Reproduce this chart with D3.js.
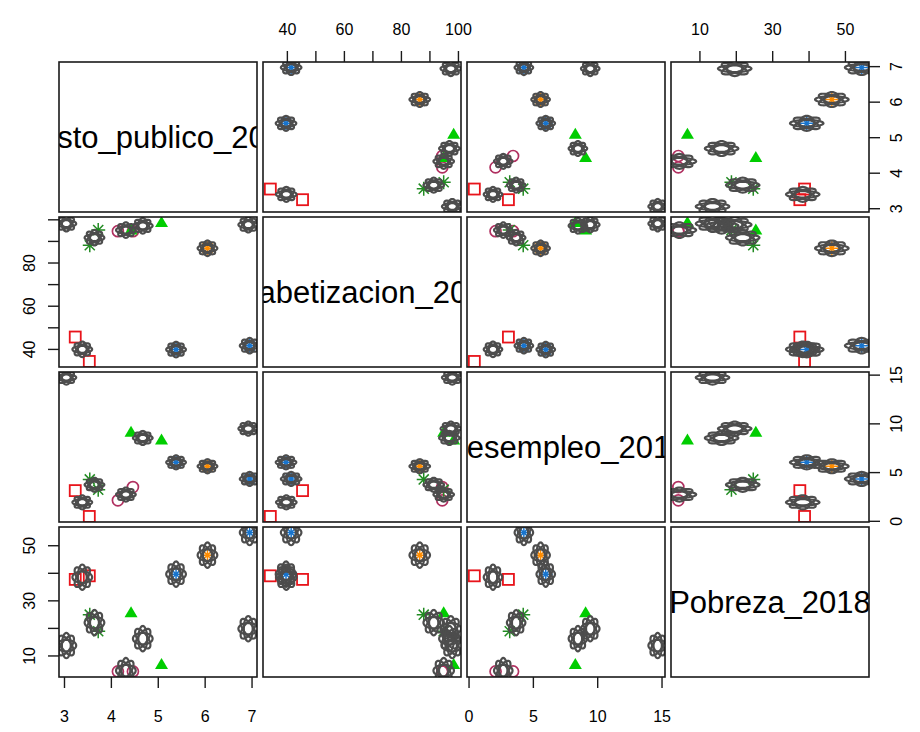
<!DOCTYPE html>
<html>
<head>
<meta charset="utf-8">
<script src="https://cdn.jsdelivr.net/npm/d3@7"></script>
<style>
body { margin: 0; background: #fff; }
text { font-family: "Liberation Sans", Arial, sans-serif; fill: #000; }
</style>
</head>
<body>
<div id="chart"></div>
<script>
// variable names, shown on the diagonal
var varNames = ["Gasto_publico_2018", "Alfabetizacion_2018", "Desempleo_2018", "Pobreza_2018"];

// grey cluster glyphs (one per cluster centre)
var blobGasto     = [6.96, 6.93, 6.06, 5.39, 4.68, 4.32, 3.65, 3.39, 3.05];
var blobAlfa      = [41.5, 97.5, 86.6, 39.7, 97.0, 95.0, 91.5, 39.8, 98.0];
var blobDesempleo = [4.3, 9.46, 5.6, 6.0, 8.5, 2.7, 3.7, 1.9, 14.7];
var blobPobreza   = [54.6, 19.7, 46.4, 39.5, 16.1, 4.5, 21.9, 38.4, 13.6];

// coloured observations
var obsGasto     = [3.54, 3.24, 4.15, 4.47, 5.08, 4.43, 3.73, 3.55, 6.06, 6.96, 5.39];
var obsAlfa      = [34.2, 45.5, 94.5, 94.5, 98.5, 95.0, 95.0, 88.0, 86.6, 41.5, 39.7];
var obsDesempleo = [0.45, 3.1, 2.1, 3.46, 8.3, 9.1, 3.2, 4.25, 5.6, 4.3, 6.0];
var obsPobreza   = [38.9, 37.6, 4.2, 4.2, 6.7, 25.5, 18.8, 24.8, 46.4, 54.6, 39.5];
var obsGroup     = ["cuadrado", "cuadrado", "circulo", "circulo", "triangulo", "triangulo",
                    "asterisco", "asterisco", "naranja", "azul", "azul"];

// axis ticks and the labels actually printed (column axis / row axis)
var ticksGasto = [3, 4, 5, 6, 7];
var labelsGastoCol = [3, 4, 5, 6, 7],  labelsGastoRow = [3, 4, 5, 6, 7];
var ticksAlfa = [40, 50, 60, 70, 80, 90, 100];
var labelsAlfaCol = [40, 60, 80, 100], labelsAlfaRow = [40, 60, 80];
var ticksDesempleo = [0, 5, 10, 15];
var labelsDesempleoCol = [0, 5, 10, 15], labelsDesempleoRow = [0, 5, 10, 15];
var ticksPobreza = [10, 20, 30, 40, 50];
var labelsPobrezaCol = [10, 30, 50], labelsPobrezaRow = [10, 30, 50];

var blobs = [blobGasto, blobAlfa, blobDesempleo, blobPobreza];
var obs = [obsGasto, obsAlfa, obsDesempleo, obsPobreza];
var ticks = [ticksGasto, ticksAlfa, ticksDesempleo, ticksPobreza];
var colLabels = [labelsGastoCol, labelsAlfaCol, labelsDesempleoCol, labelsPobrezaCol];
var rowLabels = [labelsGastoRow, labelsAlfaRow, labelsDesempleoRow, labelsPobrezaRow];

// glyph half sizes in data units for each variable
var glyphRad = [0.21, 3.6, 0.72, 4.6];

var symStyle = {
  cuadrado:  {shape: "square",   color: "#e8141b"},
  circulo:   {shape: "circle",   color: "#b03060"},
  triangulo: {shape: "triangle", color: "#00cd00"},
  asterisco: {shape: "asterisk", color: "#228b22"},
  naranja:   {shape: "asterisk", color: "#ff8c00"},
  azul:      {shape: "asterisk", color: "#1874cd"}
};

var W = 920, H = 732;
var colX = [59, 263, 467, 671], rowY = [62, 217, 372, 527];
var pw = 198, ph = 150;

var svg = d3.select("#chart").append("svg")
  .attr("width", W).attr("height", H);

// domains like R: data range + 4% each side
var domains = [0, 1, 2, 3].map(function(v) {
  var all = blobs[v].concat(obs[v]);
  var ext = d3.extent(all), r = ext[1] - ext[0];
  return [ext[0] - 0.04 * r, ext[1] + 0.04 * r];
});

function xScale(v) { return d3.scaleLinear().domain(domains[v]).range([colX[v], colX[v] + pw]); }
function yScale(v) { return d3.scaleLinear().domain(domains[v]).range([rowY[v] + ph, rowY[v]]); }

var defs = svg.append("defs");

for (var i = 0; i < 4; i++) {
  for (var j = 0; j < 4; j++) {
    var g = svg.append("g");
    var clipId = "clip" + i + j;
    defs.append("clipPath").attr("id", clipId).append("rect")
      .attr("x", colX[j]).attr("y", rowY[i]).attr("width", pw).attr("height", ph);

    if (i == j) {
      g.append("text")
        .attr("clip-path", "url(#" + clipId + ")")
        .attr("x", colX[j] + pw / 2).attr("y", rowY[i] + ph / 2)
        .attr("text-anchor", "middle").attr("dominant-baseline", "central")
        .style("font-size", "31px")
        .text(varNames[i]);
    } else {
      drawPanel(g, i, j, clipId);
    }

    g.append("rect")
      .attr("x", colX[j]).attr("y", rowY[i]).attr("width", pw).attr("height", ph)
      .attr("fill", "none").attr("stroke", "#1a1a1a").attr("stroke-width", 1.6);
  }
}

function drawPanel(g, i, j, clipId) {
  var x = xScale(j);
  var y = yScale(i);
  var inner = g.append("g").attr("clip-path", "url(#" + clipId + ")");

  // coloured symbols first, grey glyphs drawn over them
  obsGroup.forEach(function(grp, k) {
    var st = symStyle[grp];
    drawSymbol(inner, st.shape, st.color, x(obs[j][k]), y(obs[i][k]));
  });

  var line = d3.line().curve(d3.curveLinearClosed);
  blobs[0].forEach(function(_, k) {
    [0, 45, 90, 135].forEach(function(deg) {
      var th = deg * Math.PI / 180, pts = [];
      for (var s = 0; s < 40; s++) {
        var t = s / 40 * 2 * Math.PI;
        var u = Math.cos(t), v = 0.45 * Math.sin(t);
        var ur = u * Math.cos(th) - v * Math.sin(th);
        var vr = u * Math.sin(th) + v * Math.cos(th);
        pts.push([x(blobs[j][k] + ur * glyphRad[j]), y(blobs[i][k] + vr * glyphRad[i])]);
      }
      inner.append("path").attr("d", line(pts))
        .attr("fill", "none").attr("stroke", "#4d4d4d").attr("stroke-width", 2.2);
    });
  });
}

function drawSymbol(g, shape, color, px, py) {
  if (shape == "square") {
    g.append("rect").attr("x", px - 5.5).attr("y", py - 5.5).attr("width", 11).attr("height", 11)
      .attr("fill", "none").attr("stroke", color).attr("stroke-width", 1.8);
  } else if (shape == "circle") {
    g.append("circle").attr("cx", px).attr("cy", py).attr("r", 5.5)
      .attr("fill", "none").attr("stroke", color).attr("stroke-width", 1.7);
  } else if (shape == "triangle") {
    g.append("path").attr("d", "M" + px + "," + (py - 6.5) + "L" + (px + 6.5) + "," + (py + 4.5) + "L" + (px - 6.5) + "," + (py + 4.5) + "Z")
      .attr("fill", color);
  } else {
    var r = 7, d = r * 0.72;
    var p = "M" + (px - r) + "," + py + "H" + (px + r) + "M" + px + "," + (py - r) + "V" + (py + r) +
      "M" + (px - d) + "," + (py - d) + "L" + (px + d) + "," + (py + d) +
      "M" + (px - d) + "," + (py + d) + "L" + (px + d) + "," + (py - d);
    g.append("path").attr("d", p).attr("stroke", color).attr("stroke-width", 1.5).attr("fill", "none");
  }
}

// outer axes, R pairs style
function fmt(labels) { return function(d) { return labels.indexOf(d) >= 0 ? d : ""; }; }

[0, 1, 2, 3].forEach(function(v) {
  var isEven = (v % 2 == 1);
  // columns: 2nd and 4th on top, 1st and 3rd at the bottom
  var xa = isEven
    ? d3.axisTop(xScale(v)).tickValues(ticks[v]).tickSize(11).tickPadding(16).tickFormat(fmt(colLabels[v]))
    : d3.axisBottom(xScale(v)).tickValues(ticks[v]).tickSize(11).tickPadding(23).tickFormat(fmt(colLabels[v]));
  var gx = svg.append("g")
    .attr("transform", "translate(0," + (isEven ? rowY[0] : rowY[3] + ph) + ")")
    .call(xa);
  // rows: 2nd and 4th on the left, 1st and 3rd on the right
  var ya = isEven
    ? d3.axisLeft(yScale(v)).tickValues(ticks[v]).tickSize(11).tickFormat(fmt(rowLabels[v]))
    : d3.axisRight(yScale(v)).tickValues(ticks[v]).tickSize(11).tickFormat(fmt(rowLabels[v]));
  var gy = svg.append("g")
    .attr("transform", "translate(" + (isEven ? colX[0] : colX[3] + pw) + ",0)")
    .call(ya);
  gy.selectAll("text")
    .attr("x", 0).attr("y", 0).attr("dy", null)
    .attr("text-anchor", "middle")
    .attr("dominant-baseline", "central")
    .attr("transform", "translate(" + (isEven ? -30 : 27) + ",0) rotate(-90)");
  [gx, gy].forEach(function(a) {
    a.select(".domain").remove();
    a.selectAll("line").attr("stroke", "#1a1a1a").attr("stroke-width", 1.4);
    a.selectAll("text").style("font-size", "16px")
      .style("font-family", "'Liberation Sans', Arial, sans-serif");
  });
  // drop the empty label nodes
  gx.selectAll("text").filter(function() { return this.textContent == ""; }).remove();
  gy.selectAll("text").filter(function() { return this.textContent == ""; }).remove();
});
</script>
</body>
</html>
